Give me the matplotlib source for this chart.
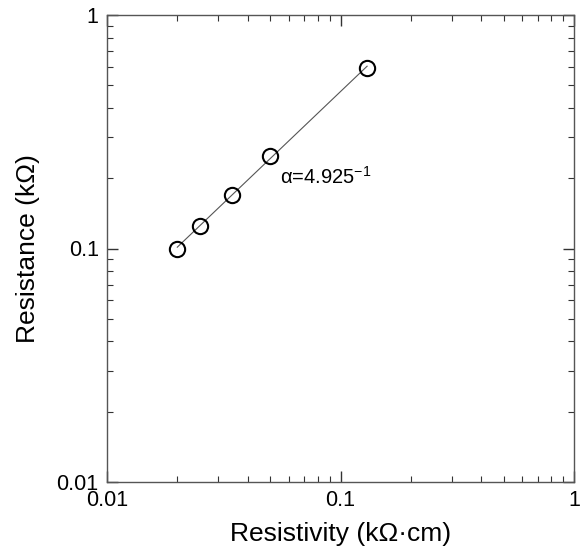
import matplotlib
matplotlib.use('Agg')
from matplotlib import pyplot as plt
import numpy as np

plt.rcParams['font.family'] = ['Liberation Sans', 'DejaVu Sans']

resistivity = [0.020, 0.025, 0.0342, 0.050, 0.130]
resistance = [0.100, 0.125, 0.169, 0.250, 0.595]
fit_label = '\u03b1=4.925$^{\\mathregular{-1}}$'

fig = plt.figure(figsize=(5.85, 5.53), dpi=100)
ax = fig.add_axes([107 / 585, 1 - 482 / 553, 467 / 585, 467 / 553])

lx = np.log10(resistivity)
ly = np.log10(resistance)
k, b = np.polyfit(lx, ly, 1)
xs = np.array([min(resistivity), max(resistivity)])
ax.plot(xs, 10 ** (k * np.log10(xs) + b), color='#555555', lw=0.8, zorder=1)
ax.plot(resistivity, resistance, 'o', mfc='none', mec='black', ms=11,
        mew=1.5, zorder=2)

ax.text(0.0548, 0.202, fit_label, fontsize=14.5, va='center', ha='left')

ax.set_xscale('log')
ax.set_yscale('log')
ax.set_xlim(0.01, 1)
ax.set_ylim(0.01, 1)
ax.set_xticks([0.01, 0.1, 1])
ax.set_xticklabels(['0.01', '0.1', '1'])
ax.set_yticks([0.01, 0.1, 1])
ax.set_yticklabels(['0.01', '0.1', '1'])

ax.tick_params(which='both', direction='in', top=True, right=True,
               colors='#333333', labelcolor='black', labelsize=15.5)
ax.tick_params(which='major', length=8, width=1, pad=6)
ax.tick_params(which='minor', length=4, width=0.8)
for s in ax.spines.values():
    s.set_color('#555555')
    s.set_linewidth(1)

ax.set_xlabel('Resistivity (k\u03a9\u00b7cm)', fontsize=19, labelpad=8)
ax.set_ylabel('Resistance (k\u03a9)', fontsize=19, labelpad=12)

fig.savefig('out.png', dpi=100)
